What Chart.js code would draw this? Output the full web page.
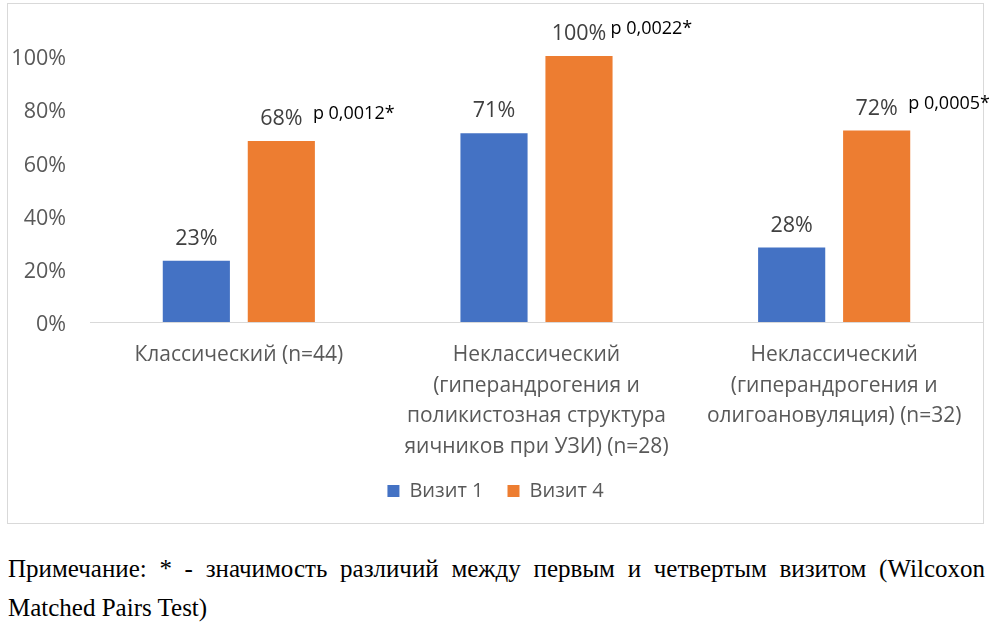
<!DOCTYPE html>
<html>
<head>
<meta charset="utf-8">
<script src="https://cdn.jsdelivr.net/npm/chart.js@4"></script>
<style>
  body { margin: 0; background: #fff; width: 992px; height: 631px; position: relative; overflow: hidden; }
  #box { position: absolute; left: 7px; top: 3px; width: 977px; height: 521px; border: 1px solid #d9d9d9; box-sizing: border-box; }
  #chart { position: absolute; left: 8px; top: 4px; display: block; }
  .note { position: absolute; left: 8px; width: 977px; font-family: "Liberation Serif", serif; font-size: 25px; color: #000; line-height: 39px; white-space: nowrap; }
  #note1 { top: 549px; text-align: justify; text-align-last: justify; }
  #note2 { top: 588px; }
</style>
</head>
<body>
<div id="box"></div>
<canvas id="chart" width="984" height="519"></canvas>
<div class="note" id="note1">Примечание: * - значимость различий между первым и четвертым визитом (Wilcoxon</div>
<div class="note" id="note2">Matched Pairs Test)</div>
<script>
const categories = [
  ['Классический (n=44)'],
  ['Неклассический', '(гиперандрогения и', 'поликистозная структура', 'яичников при УЗИ) (n=28)'],
  ['Неклассический', '(гиперандрогения и', 'олигоановуляция) (n=32)']
];
const visit1 = [23, 71, 28];
const visit4 = [68, 100, 72];
const pValues = ['p 0,0012*', 'p 0,0022*', 'p 0,0005*'];
const yTicks = [0, 20, 40, 60, 80, 100];

const FONT = '"Open Sans"';

// value labels above bars + p-values next to the orange bars
const barLabels = {
  id: 'barLabels',
  afterDatasetsDraw(chart) {
    const ctx = chart.ctx;
    ctx.save();
    ctx.textBaseline = 'middle';
    chart.data.datasets.forEach((ds, di) => {
      const meta = chart.getDatasetMeta(di);
      meta.data.forEach((bar, i) => {
        ctx.font = '21.5px ' + FONT;
        ctx.fillStyle = '#404040';
        ctx.textAlign = 'center';
        ctx.fillText(ds.data[i] + '%', bar.x, bar.y - 22);
        if (di === 1) {
          ctx.font = '18px ' + FONT;
          ctx.fillStyle = '#000';
          ctx.textAlign = 'left';
          ctx.fillText(pValues[i], bar.x + bar.width / 2 - 2, bar.y - 27);
        }
      });
    });
    ctx.restore();
  }
};

new Chart(document.getElementById('chart'), {
  type: 'bar',
  data: {
    labels: categories,
    datasets: [
      {
        label: 'Визит 1',
        data: visit1,
        backgroundColor: '#4472C4',
        categoryPercentage: 0.571,
        barPercentage: 0.79,
      },
      {
        label: 'Визит 4',
        data: visit4,
        backgroundColor: '#ED7D31',
        categoryPercentage: 0.571,
        barPercentage: 0.79,
      }
    ]
  },
  options: {
    responsive: false,
    animation: false,
    layout: { padding: { top: 52, left: 0, right: 9, bottom: 12 } },
    plugins: {
      legend: {
        position: 'bottom',
        labels: {
          boxWidth: 12,
          boxHeight: 12,
          padding: 24,
          color: '#595959',
          font: { family: 'Open Sans', size: 20 }
        }
      },
      tooltip: { enabled: false }
    },
    scales: {
      x: {
        grid: { display: false, drawTicks: false },
        border: { display: true, color: '#d9d9d9', width: 1 },
        ticks: {
          color: '#595959',
          font: { family: 'Open Sans', size: 21, lineHeight: 1.45 },
          padding: 18,
          maxRotation: 0,
          autoSkip: false
        },
        afterFit(scale) { scale.height = 135; }
      },
      y: {
        min: 0,
        max: 100,
        afterBuildTicks(scale) { scale.ticks = yTicks.map(v => ({ value: v })); },
        grid: { display: false, drawTicks: false },
        border: { display: false },
        ticks: {
          color: '#595959',
          font: { family: 'Open Sans', size: 21.5 },
          padding: 24,
          labelOffset: 3,
          callback: v => v + '%'
        },
        afterFit(scale) { scale.width = 82; }
      }
    }
  },
  plugins: [barLabels]
});
</script>
</body>
</html>
